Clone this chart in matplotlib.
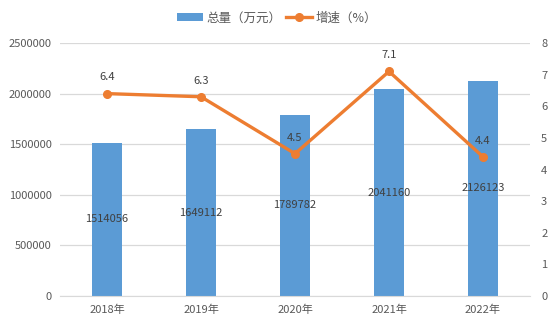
import matplotlib
matplotlib.use("Agg")
import matplotlib.pyplot as plt
from matplotlib.lines import Line2D
from matplotlib.patches import Patch

plt.rcParams['font.family'] = ['Noto Sans CJK SC', 'DejaVu Sans']

years = ["2018年", "2019年", "2020年", "2021年", "2022年"]
totals = [1514056, 1649112, 1789782, 2041160, 2126123]
growth = [6.4, 6.3, 4.5, 7.1, 4.4]

bar_color = "#5b9bd5"
line_color = "#ed7d31"
text_color = "#595959"
grid_color = "#d9d9d9"

W, H = 554, 328
fig = plt.figure(figsize=(W / 100, H / 100), dpi=100)
ax = fig.add_axes([60 / W, (H - 296) / H, 470 / W, 253 / H])
ax2 = ax.twinx()

x = list(range(len(years)))
ax.bar(x, totals, width=0.31, color=bar_color, zorder=2)
ax.set_ylim(0, 2500000)
ax.set_xlim(-0.5, len(years) - 0.5)
ax.set_yticks(range(0, 2500001, 500000))
ax.set_yticklabels([str(v) for v in range(0, 2500001, 500000)])
ax.set_xticks(x)
ax.set_xticklabels(years)
ax.grid(axis='y', color=grid_color, linewidth=0.9, zorder=0)
ax.set_axisbelow(True)
for s in ["top", "right", "left"]:
    ax.spines[s].set_visible(False)
ax.spines["bottom"].set_color(grid_color)
ax.tick_params(axis='both', length=0, labelsize=8, colors=text_color)
ax.tick_params(axis='y', pad=6)
ax.tick_params(axis='x', pad=6)
for xi, v in zip(x, totals):
    ax.text(xi, v / 2, str(v), ha='center', va='center', fontsize=8, color="#404040", zorder=5)

ax2.plot(x, growth, color=line_color, linewidth=2.4, marker='o', markersize=5.5, zorder=4)
ax2.set_ylim(0, 8)
ax2.set_yticks(range(0, 9))
for s in ["top", "right", "left", "bottom"]:
    ax2.spines[s].set_visible(False)
ax2.tick_params(axis='y', length=0, labelsize=8, colors=text_color, pad=8)
for xi, v in zip(x, growth):
    ax2.annotate(f"{v}", (xi, v), xytext=(0, 8), textcoords='offset points',
                 ha='center', va='bottom', fontsize=8, color="#404040")

handles = [Patch(facecolor=bar_color, edgecolor='none'),
           Line2D([0], [0], color=line_color, linewidth=2.4, marker='o', markersize=5.5)]
fig.legend(handles, ["总量（万元）", "增速（%）"], loc='center', bbox_to_anchor=(0.5, 1 - 18 / H),
           ncol=2, frameon=False, fontsize=9, labelcolor=text_color,
           handlelength=2.1, handleheight=0.6, columnspacing=0.3, handletextpad=0.3)

fig.savefig("out.png", dpi=100)
